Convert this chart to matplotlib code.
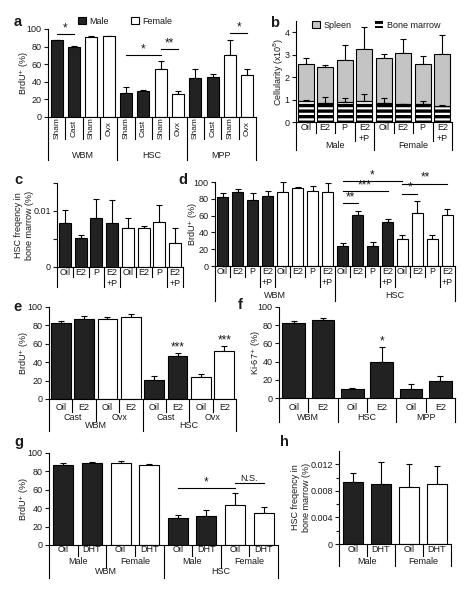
import numpy as np
import matplotlib
matplotlib.use("Agg")
import matplotlib.pyplot as plt
from matplotlib.patches import Patch
from matplotlib.transforms import blended_transform_factory

plt.rcParams['font.family'] = ['Liberation Sans', 'DejaVu Sans']
plt.rcParams['hatch.linewidth'] = 1.6
plt.rcParams['axes.linewidth'] = 0.8
plt.rcParams['text.color'] = '#1a1a1a'
plt.rcParams['ytick.color'] = '#1a1a1a'

W, H = 476, 599
DARK = '#222222'
GRAY = '#c4c4c4'
FS = 6.5

# ---- panel a: BrdU+ after castration / ovariectomy
a_labels = ['Sham', 'Cast', 'Sham', 'Ovx'] * 3
a_groups = ['WBM', 'HSC', 'MPP']
a_sex = ['M', 'M', 'F', 'F'] * 3
a_vals = [87, 80, 91, 92, 27, 29, 54, 26, 44, 46, 70, 48]
a_err = [1, 1, 1.5, 0.5, 7, 2, 10, 4, 10, 3, 17, 6]
a_sig = [(0, 1, 94, '*'), (4, 6, 70, '*'), (6, 7, 77, '**'), (10, 11, 95, '*')]

# ---- panel b: cellularity, spleen stacked on bone marrow
b_labels = ['Oil', 'E2', 'P', 'E2\n+P'] * 2
b_bm = [0.95, 0.85, 0.88, 0.92, 0.85, 0.78, 0.78, 0.72]
b_bm_err = [0.03, 0.27, 0.2, 0.32, 0.22, 0.04, 0.15, 0.03]
b_spleen = [1.63, 1.61, 1.90, 2.33, 1.99, 2.29, 1.82, 2.30]
b_spleen_err = [0.28, 0.10, 0.67, 0.98, 0.18, 0.62, 0.32, 0.85]

# ---- panel c: HSC frequency
c_sex = ['M'] * 4 + ['F'] * 4
c_vals = [0.0078, 0.0051, 0.0088, 0.0078, 0.0070, 0.0069, 0.0080, 0.0042]
c_err = [0.0023, 0.0006, 0.0033, 0.0042, 0.0017, 0.0004, 0.0030, 0.0028]

# ---- panel d: BrdU+ with hormones
d_labels = b_labels * 2
d_sex = (['M'] * 4 + ['F'] * 4) * 2
d_vals = [82, 88, 78, 83, 88, 93, 89, 88, 24, 61, 24, 52, 32, 63, 32, 61]
d_err = [5, 4, 9, 6, 12, 1, 6, 11, 3, 5, 4, 4, 5, 14, 5, 7]
d_sig = [(8, 9, 75, '**'), (8, 11, 89, '***'), (8, 12, 101, '*'),
         (12, 13, 86, '*'), (12, 15, 98, '**')]

# ---- panel e
e_labels = ['Oil', 'E2'] * 4
e_sub = ['Cast', 'Ovx', 'Cast', 'Ovx']
e_groups = ['WBM', 'HSC']
e_sex = ['M', 'M', 'F', 'F'] * 2
e_vals = [82.5, 87, 87, 89, 21, 47, 24, 52]
e_err = [2, 3, 2, 3, 4, 3, 3, 5.5]
e_star = [(5, '***'), (7, '***')]

# ---- panel f: Ki-67+
f_labels = ['Oil', 'E2'] * 3
f_groups = ['WBM', 'HSC', 'MPP']
f_vals = [82, 86, 10, 40, 9.5, 18.7]
f_err = [2.6, 2, 1, 16, 6, 5.5]
f_star = [(3, '*')]

# ---- panel g: DHT
g_labels = ['Oil', 'DHT'] * 4
g_sub = ['Male', 'Female', 'Male', 'Female']
g_groups = ['WBM', 'HSC']
g_sex = ['M', 'M', 'F', 'F'] * 2
g_vals = [87, 89, 89.5, 87.5, 29, 31, 43, 34.5]
g_err = [2.5, 1.5, 1.5, 1, 3.5, 7.5, 13, 6.5]
g_sig = [(4, 6, 62, '*'), (6, 7, 67, 'N.S.')]

# ---- panel h
h_labels = ['Oil', 'DHT'] * 2
h_sub = ['Male', 'Female']
h_sex = ['M', 'M', 'F', 'F']
h_vals = [0.0093, 0.0090, 0.0086, 0.0091]
h_err = [0.0014, 0.0033, 0.0034, 0.0026]

fig = plt.figure(figsize=(W / 100, H / 100), dpi=100)


def fx(px):
    return px / W


def fy(py):
    return 1 - py / H


def make_ax(left, top, right, bottom, n):
    ax = fig.add_axes([fx(left), fy(bottom), (right - left) / W, (bottom - top) / H])
    ax.spines[['top', 'right']].set_visible(False)
    ax.tick_params(axis='y', length=3, width=0.8, labelsize=FS, pad=1.5)
    ax.tick_params(axis='x', length=0, labelbottom=False)
    ax.set_xlim(-0.5, n - 0.5)
    ax.bottom_px = bottom
    return ax


def draw_bars(ax, vals, err, sexes, width):
    x = np.arange(len(vals))
    colors = [DARK if s == 'M' else 'white' for s in sexes]
    ax.bar(x, vals, width, color=colors, edgecolor='black', linewidth=0.8, zorder=2)
    ax.errorbar(x, vals, yerr=[np.zeros(len(err)), err], fmt='none', ecolor='black',
                elinewidth=0.8, capsize=2.4, capthick=0.8, zorder=1)


def label_rows(ax, rows):
    trans = blended_transform_factory(ax.transData, fig.transFigure)
    depth = {}
    for row in rows:
        start = 0
        for name, size in zip(row['names'], row['sizes']):
            end = start + size
            bot = row['bottom']
            if '\n' in name:
                bot = row['bottom2']
            for b in (start - 0.5, end - 0.5):
                depth[b] = max(depth.get(b, 0), bot)
            if name:
                ax.text((start + end - 1) / 2, fy(row['y']), name, transform=trans,
                        ha='center', va=row.get('va', 'center'),
                        fontsize=row.get('fs', FS), rotation=row.get('rot', 0),
                        linespacing=1.3, clip_on=False)
            start = end
    for b, d in depth.items():
        ax.plot([b, b], [fy(ax.bottom_px), fy(d)], transform=trans, color='black',
                lw=0.8, clip_on=False)


def sig_line(ax, x1, x2, y, txt):
    ax.plot([x1, x2], [y, y], color='black', lw=0.8, clip_on=False)
    small = txt == 'N.S.'
    ax.text((x1 + x2) / 2, y, txt, ha='center', va='bottom',
            fontsize=6.5 if small else 8.5, clip_on=False)


def ylab(text, px, top, bottom):
    fig.text(fx(px), fy((top + bottom) / 2), text, rotation=90, ha='center',
             va='center', fontsize=6.5, linespacing=1.2)


def panel_letter(txt, px, py):
    fig.text(fx(px), fy(py), txt, ha='center', va='center', fontsize=10.5,
             fontweight='bold')


# ---------------- a
ax = make_ax(48, 29, 256, 117, len(a_vals))
draw_bars(ax, a_vals, a_err, a_sex, 0.7)
ax.set_ylim(0, 100)
ax.set_yticks(range(0, 101, 20))
for x1, x2, y, t in a_sig:
    sig_line(ax, x1, x2, y, t)
label_rows(ax, [
    {'names': a_labels, 'sizes': [1] * 12, 'y': 128, 'bottom': 139, 'rot': 90, 'fs': 6},
    {'names': a_groups, 'sizes': [4, 4, 4], 'y': 155, 'bottom': 160},
])
ylab('BrdU$^{+}$ (%)', 24, 29, 117)
panel_letter('a', 18, 22)
fig.legend(handles=[Patch(fc=DARK, ec='black', lw=0.8), Patch(fc='white', ec='black', lw=0.8)],
           labels=['Male', 'Female'], loc='center left', bbox_to_anchor=(fx(78), fy(21)),
           ncol=2, frameon=False, fontsize=6.5, handlelength=0.9, handleheight=0.9,
           columnspacing=2.4, handletextpad=0.4, borderpad=0, borderaxespad=0)

# ---------------- b
ax = make_ax(296, 21, 452, 122, len(b_bm))
xb = np.arange(len(b_bm))
bm = np.array(b_bm)
ax.bar(xb, bm, 0.8, color='black', edgecolor='white', hatch='---', lw=0, zorder=2)
ax.bar(xb, bm, 0.8, fill=False, edgecolor='black', lw=0.8, zorder=3)
ax.bar(xb, b_spleen, 0.8, bottom=bm, color=GRAY, edgecolor='black', lw=0.8, zorder=2)
ax.errorbar(xb, bm + np.array(b_spleen), yerr=[np.zeros(8), b_spleen_err], fmt='none',
            ecolor='black', elinewidth=0.8, capsize=2.4, capthick=0.8, zorder=1)
ax.errorbar(xb, bm, yerr=[np.zeros(8), b_bm_err], fmt='none', ecolor='black',
            elinewidth=0.8, capsize=2.4, capthick=0.8, zorder=4)
ax.set_ylim(0, 4.5)
ax.set_yticks(range(0, 5))
label_rows(ax, [
    {'names': b_labels, 'sizes': [1] * 8, 'y': 123, 'va': 'top', 'bottom': 133, 'bottom2': 141},
    {'names': ['Male', 'Female'], 'sizes': [4, 4], 'y': 146, 'bottom': 150},
])
ylab('Cellularity (x10$^{8}$)', 279, 21, 122)
panel_letter('b', 275, 23)
fig.legend(handles=[Patch(fc=GRAY, ec='black', lw=0.8),
                    Patch(fc='black', ec='white', hatch='---', lw=0)],
           labels=['Spleen', 'Bone marrow'], loc='center left',
           bbox_to_anchor=(fx(312), fy(25)), ncol=2, frameon=False, fontsize=6.5,
           handlelength=0.9, handleheight=0.9, columnspacing=2.6, handletextpad=0.4,
           borderpad=0, borderaxespad=0)

# ---------------- c
ax = make_ax(57, 183, 183, 267, len(c_vals))
draw_bars(ax, c_vals, c_err, c_sex, 0.76)
ax.set_ylim(0, 0.015)
ax.set_yticks([0, 0.005, 0.01, 0.015])
ax.set_yticklabels(['0', '', '0.01', ''])
label_rows(ax, [
    {'names': b_labels, 'sizes': [1] * 8, 'y': 268, 'va': 'top', 'bottom': 277, 'bottom2': 287},
    {'names': ['', ''], 'sizes': [4, 4], 'y': 0, 'bottom': 287},
])
ylab('HSC freqency in\nbone marrow (%)', 24, 183, 267)
panel_letter('c', 18, 180)

# ---------------- d
ax = make_ax(215, 182, 455, 266, len(d_vals))
draw_bars(ax, d_vals, d_err, d_sex, 0.78)
ax.set_ylim(0, 100)
ax.set_yticks(range(0, 101, 20))
for x1, x2, y, t in d_sig:
    sig_line(ax, x1, x2, y, t)
label_rows(ax, [
    {'names': d_labels, 'sizes': [1] * 16, 'y': 267, 'va': 'top', 'bottom': 277, 'bottom2': 287},
    {'names': ['WBM', 'HSC'], 'sizes': [8, 8], 'y': 295, 'bottom': 301},
])
ylab('BrdU$^{+}$ (%)', 193, 182, 266)
panel_letter('d', 183, 180)

# ---------------- e
ax = make_ax(49, 307, 236, 399, len(e_vals))
draw_bars(ax, e_vals, e_err, e_sex, 0.85)
ax.set_ylim(0, 100)
ax.set_yticks(range(0, 101, 20))
for i, t in e_star:
    ax.text(i, e_vals[i] + e_err[i], t, ha='center', va='bottom', fontsize=8.5)
label_rows(ax, [
    {'names': e_labels, 'sizes': [1] * 8, 'y': 407, 'bottom': 412},
    {'names': e_sub, 'sizes': [2] * 4, 'y': 417, 'bottom': 421},
    {'names': e_groups, 'sizes': [4, 4], 'y': 426, 'bottom': 431},
])
ylab('BrdU$^{+}$ (%)', 24, 307, 399)
panel_letter('e', 18, 307)

# ---------------- f
ax = make_ax(279, 307, 455, 398, len(f_vals))
draw_bars(ax, f_vals, f_err, ['M'] * 6, 0.78)
ax.set_ylim(0, 100)
ax.set_yticks(range(0, 101, 20))
for i, t in f_star:
    ax.text(i, f_vals[i] + f_err[i], t, ha='center', va='bottom', fontsize=8.5)
label_rows(ax, [
    {'names': f_labels, 'sizes': [1] * 6, 'y': 407, 'bottom': 412},
    {'names': f_groups, 'sizes': [2, 2, 2], 'y': 417, 'bottom': 422},
])
ylab('Ki-67$^{+}$ (%)', 256, 307, 398)
panel_letter('f', 240, 305)

# ---------------- g
ax = make_ax(49, 453, 278, 545, len(g_vals))
draw_bars(ax, g_vals, g_err, g_sex, 0.7)
ax.set_ylim(0, 100)
ax.set_yticks(range(0, 101, 20))
for x1, x2, y, t in g_sig:
    sig_line(ax, x1, x2, y, t)
label_rows(ax, [
    {'names': g_labels, 'sizes': [1] * 8, 'y': 550, 'bottom': 556},
    {'names': g_sub, 'sizes': [2] * 4, 'y': 562, 'bottom': 568},
    {'names': g_groups, 'sizes': [4, 4], 'y': 572, 'bottom': 578},
])
ylab('BrdU$^{+}$ (%)', 24, 453, 545)
panel_letter('g', 19, 442)

# ---------------- h
ax = make_ax(339, 451, 451, 544, len(h_vals))
draw_bars(ax, h_vals, h_err, h_sex, 0.68)
ax.set_ylim(0, 0.014)
ax.set_yticks([0, 0.004, 0.008, 0.012])
ax.set_yticklabels(['0', '0.004', '0.008', '0.012'])
ax.set_yticks([0.002, 0.006, 0.010], minor=True)
ax.tick_params(axis='y', which='minor', length=2, width=0.8)
label_rows(ax, [
    {'names': h_labels, 'sizes': [1] * 4, 'y': 550, 'bottom': 556},
    {'names': h_sub, 'sizes': [2, 2], 'y': 562, 'bottom': 566},
])
ylab('HSC freqency in\nbone marrow (%)', 301, 451, 544)
panel_letter('h', 284, 442)

fig.savefig('out.png', dpi=100)
